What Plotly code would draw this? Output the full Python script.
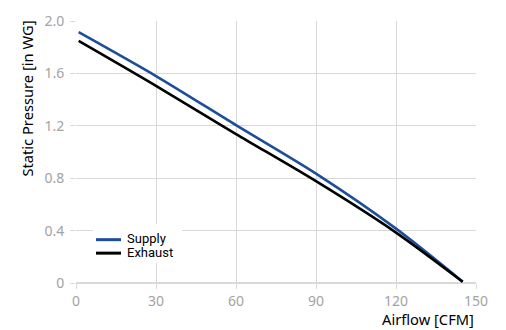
import plotly.graph_objects as go

airflow_supply = [1, 30, 60, 90, 120, 145]
pressure_supply = [1.915, 1.58, 1.205, 0.835, 0.415, 0.01]
airflow_exhaust = [1, 30, 60, 90, 120, 145]
pressure_exhaust = [1.848, 1.505, 1.137, 0.777, 0.385, 0.01]

x_ticks = [0, 30, 60, 90, 120, 150]
y_ticks = [0, 0.4, 0.8, 1.2, 1.6, 2.0]
y_labels = ["0", "0.4", "0.8", "1.2", "1.6", "2.0"]

series_names = ["Supply", "Exhaust"]
series_colors = ["#1d4e9b", "#000000"]

fig = go.Figure()
fig.add_trace(go.Scatter(x=airflow_supply, y=pressure_supply, mode="lines", name=series_names[0],
                         line=dict(color=series_colors[0], width=2.6, shape="spline", smoothing=0.8)))
fig.add_trace(go.Scatter(x=airflow_exhaust, y=pressure_exhaust, mode="lines", name=series_names[1],
                         line=dict(color=series_colors[1], width=2.6, shape="spline", smoothing=0.8)))

grid = "#d9d9d9"
tickfont = dict(family="Noto Sans", size=14, color="#a3a3a3")
titlefont = dict(family="Noto Sans", size=14.7, color="#000")

# custom compact legend (white box, line samples, labels)
legend_rows_y = [0.1654, 0.114]
legend_text_y = [0.169, 0.1176]
shapes = [dict(type="rect", xref="paper", yref="paper", x0=0.0425, x1=0.265, y0=0.077, y1=0.224,
               fillcolor="white", line=dict(width=0), layer="above")]
annotations = []
for name, color, ly, ty in zip(series_names, series_colors, legend_rows_y, legend_text_y):
    shapes.append(dict(type="line", xref="paper", yref="paper", x0=0.05, x1=0.1125, y0=ly, y1=ly,
                       line=dict(color=color, width=3), layer="above"))
    annotations.append(dict(text=name, xref="paper", yref="paper", x=0.1225, y=ty,
                            xanchor="left", yanchor="middle", showarrow=False,
                            font=dict(family="Roboto", size=13, color="#000")))

annotations += [
    dict(text="Airflow [CFM]", xref="paper", yref="paper", x=1.0, y=-0.09,
         xanchor="right", yanchor="top", showarrow=False, font=titlefont),
    dict(text="Static Pressure [in WG]", xref="paper", yref="paper", x=-0.122, y=1.01,
         xanchor="center", yanchor="top", textangle=-90, showarrow=False, font=titlefont),
]

fig.update_layout(
    width=506, height=330,
    margin=dict(l=76, r=30, t=11, b=47),
    paper_bgcolor="white", plot_bgcolor="white",
    showlegend=False,
    xaxis=dict(range=[0, 150], tickvals=x_ticks, showgrid=True, gridcolor=grid, gridwidth=1,
               ticks="outside", ticklen=5, tickcolor=grid, tickfont=tickfont,
               zeroline=False, showline=False, fixedrange=True),
    yaxis=dict(range=[0, 2.0], tickvals=y_ticks, ticktext=y_labels, showgrid=True, gridcolor=grid,
               gridwidth=1, ticks="outside", ticklen=5, tickcolor=grid, tickfont=tickfont,
               ticklabelstandoff=3,
               zeroline=True, zerolinecolor=grid, showline=False, fixedrange=True),
    shapes=shapes,
    annotations=annotations,
)
fig.write_html("out.html", config={"displayModeBar": False},
               post_script="document.body.style.margin='0';")
